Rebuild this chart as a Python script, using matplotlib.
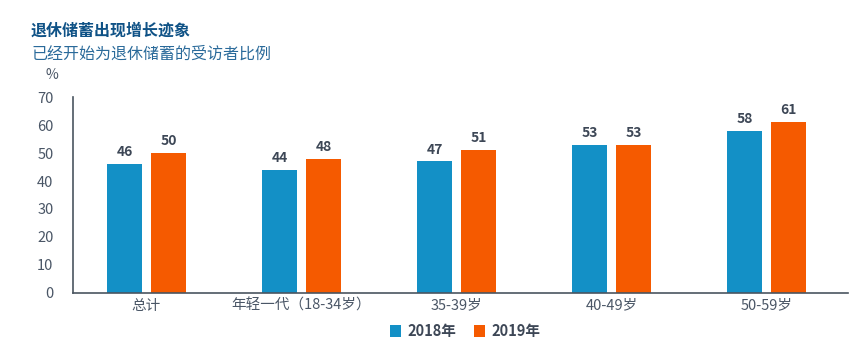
import matplotlib
matplotlib.use("Agg")
import matplotlib.pyplot as plt
import numpy as np

plt.rcParams['font.family'] = ['Noto Sans CJK SC', 'DejaVu Sans']

categories = ["总计", "年轻一代（18-34岁）", "35-39岁", "40-49岁", "50-59岁"]
series_names = ["2018年", "2019年"]
values_2018 = [46, 44, 47, 53, 58]
values_2019 = [50, 48, 51, 53, 61]
yticks = [0, 10, 20, 30, 40, 50, 60, 70]

c_blue = "#1390c6"
c_orange = "#f55a00"
tick_color = "#4a5666"
label_color = "#3d4756"

fig = plt.figure(figsize=(8.68, 3.52), dpi=100)
ax = fig.add_axes([73/868, 1-293/352, (848-73)/868, (293-97)/352])

x = np.arange(len(categories))
w = 0.22
off = 0.142
b1 = ax.bar(x - off, values_2018, w, color=c_blue, label=series_names[0])
b2 = ax.bar(x + off, values_2019, w, color=c_orange, label=series_names[1])

for bars, vals in ((b1, values_2018), (b2, values_2019)):
    for rect, v in zip(bars, vals):
        ax.annotate(str(v), (rect.get_x() + rect.get_width()/2, v),
                    xytext=(0, 3.5), textcoords="offset points",
                    ha="center", va="bottom", fontsize=10, fontweight="bold",
                    color=label_color)

ax.set_xlim(-0.474, 4.526)
ax.set_ylim(0, 70)
ax.set_yticks(yticks)
ax.set_yticklabels([str(t) for t in yticks])
ax.set_xticks(x)
ax.set_xticklabels(categories)
for s in ("top", "right"):
    ax.spines[s].set_visible(False)
for s in ("left", "bottom"):
    ax.spines[s].set_color("#4a5560")
    ax.spines[s].set_linewidth(1.2)
ax.tick_params(axis="both", length=0, labelsize=10.5, colors=tick_color)
ax.tick_params(axis="y", pad=14)
ax.tick_params(axis="x", pad=4)

fig.text(31/868, 1-31/352, "退休储蓄出现增长迹象", fontsize=11.5, fontweight="bold",
         color="#0f5286", ha="left", va="center")
fig.text(31/868, 1-54/352, "已经开始为退休储蓄的受访者比例", fontsize=11.5,
         color="#2a6a9a", ha="left", va="center")
fig.text(52/868, 1-75/352, "%", fontsize=10, color=tick_color, ha="center", va="center")

leg = fig.legend(handles=[b1, b2], labels=series_names, loc="center",
                 bbox_to_anchor=(465/868, 1-331/352), ncol=2, frameon=False,
                 handlelength=0.8, handleheight=0.8, handletextpad=0.4,
                 columnspacing=1.2, prop={"weight": "bold", "size": 10.5})
for t in leg.get_texts():
    t.set_color(label_color)

fig.savefig("out.png", dpi=100)
